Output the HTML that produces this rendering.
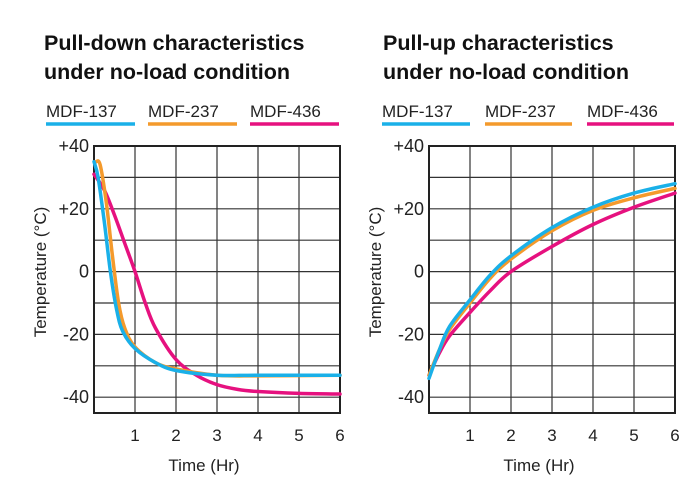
<!DOCTYPE html>
<html><head><meta charset="utf-8"><style>
html,body{margin:0;padding:0;background:#fff;width:700px;height:493px;overflow:hidden}
svg{display:block;font-family:"Liberation Sans",sans-serif}
</style></head><body>
<svg id="s" width="700" height="493" viewBox="0 0 700 493">
<g font-weight="bold" font-size="21.5" fill="#111">
<text x="44" y="50">Pull-down characteristics</text>
<text x="44" y="79">under no-load condition</text>
<text x="383" y="50">Pull-up characteristics</text>
<text x="383" y="79">under no-load condition</text>
</g>
<g font-size="17" fill="#222">
<text x="46" y="117">MDF-137</text><text x="148" y="117">MDF-237</text><text x="250" y="117">MDF-436</text>
<text x="382" y="117">MDF-137</text><text x="485" y="117">MDF-237</text><text x="587" y="117">MDF-436</text>
</g>
<g stroke-width="3.5">
<line x1="46" y1="124" x2="135" y2="124" stroke="#1ab0e8"/><line x1="148" y1="124" x2="237" y2="124" stroke="#f49a2c"/><line x1="250" y1="124" x2="339" y2="124" stroke="#e6117f"/>
<line x1="382" y1="124" x2="470" y2="124" stroke="#1ab0e8"/><line x1="485" y1="124" x2="572" y2="124" stroke="#f49a2c"/><line x1="587" y1="124" x2="674" y2="124" stroke="#e6117f"/>
</g>
<g id="g"></g>
</svg>
<script>
var NS="http://www.w3.org/2000/svg",g=document.getElementById('g');
function el(n,a,t){var e=document.createElementNS(NS,n);for(var k in a)e.setAttribute(k,a[k]);if(t!=null)e.textContent=t;g.appendChild(e);return e;}
function chart(x0,curves){
 var X=function(t){return x0+41*t},Y=function(T){return 271.6-3.14*T};
 for(var i=1;i<6;i++)el('line',{x1:X(i),y1:146,x2:X(i),y2:413,stroke:'#333','stroke-width':1.2});
 for(var v=40;v>=-40;v-=10)el('line',{x1:x0,y1:Y(v),x2:x0+246,y2:Y(v),stroke:'#333','stroke-width':1.2});
 el('rect',{x:x0,y:146,width:246,height:267,fill:'none',stroke:'#222','stroke-width':2});
 [[40,'+40'],[20,'+20'],[0,'0'],[-20,'-20'],[-40,'-40']].forEach(function(p){el('text',{x:x0-5,y:Y(p[0])+6,'text-anchor':'end','font-size':18,fill:'#222'},p[1]);});
 for(var i=1;i<=6;i++)el('text',{x:X(i),y:441,'text-anchor':'middle','font-size':17,fill:'#222'},i);
 el('text',{x:x0+110,y:471,'text-anchor':'middle','font-size':17,fill:'#222'},'Time (Hr)');
 el('text',{x:0,y:0,'text-anchor':'middle','font-size':17,fill:'#222',transform:'translate('+(x0-48)+',272) rotate(-90)'},'Temperature (\u00B0C)');
 curves.forEach(function(c){
  var p=c[1].map(function(q){return [X(q[0]),Y(q[1])]});
  var d='M'+p[0][0]+','+p[0][1];
  for(var i=0;i<p.length-1;i++){var a=p[i-1]||p[i],b=p[i],cc=p[i+1],e=p[i+2]||cc;
   d+=' C'+(b[0]+(cc[0]-a[0])/6)+','+(b[1]+(cc[1]-a[1])/6)+' '+(cc[0]-(e[0]-b[0])/6)+','+(cc[1]-(e[1]-b[1])/6)+' '+cc[0]+','+cc[1];}
  el('path',{d:d,fill:'none',stroke:c[0],'stroke-width':3.5,'stroke-linecap':'round'});
 });
}
chart(94,[
 ['#e6117f',[[0,31],[0.25,26],[0.5,18],[0.75,9],[1,0],[1.25,-10],[1.5,-18],[2,-28],[2.5,-33],[3,-36],[3.5,-37.5],[4,-38.2],[5,-38.8],[6,-39]]],
 ['#f49a2c',[[0.05,35],[0.15,34],[0.3,22],[0.45,5],[0.6,-10],[0.75,-18],[1,-24],[1.5,-29],[2,-31],[3,-33],[4,-33.2],[6,-33]]],
 ['#1ab0e8',[[0,35],[0.1,30],[0.25,16],[0.4,0],[0.55,-12],[0.7,-19],[1,-24.5],[1.5,-29],[2,-31.5],[3,-33],[4,-33],[6,-33]]]
]);
chart(429,[
 ['#e6117f',[[0,-33],[0.25,-26],[0.5,-20.5],[1,-13],[1.5,-6],[2,0],[3,8],[4,15],[5,20.5],[6,25]]],
 ['#f49a2c',[[0,-33],[0.25,-25],[0.5,-18.5],[1,-10],[1.5,-2],[2,4],[3,13],[4,19.5],[5,23.5],[6,26.5]]],
 ['#1ab0e8',[[0,-34],[0.25,-25],[0.5,-17.5],[1,-9],[1.5,-1],[2,5],[3,14],[4,20.5],[5,25],[6,28]]]
]);
</script>
</body></html>
